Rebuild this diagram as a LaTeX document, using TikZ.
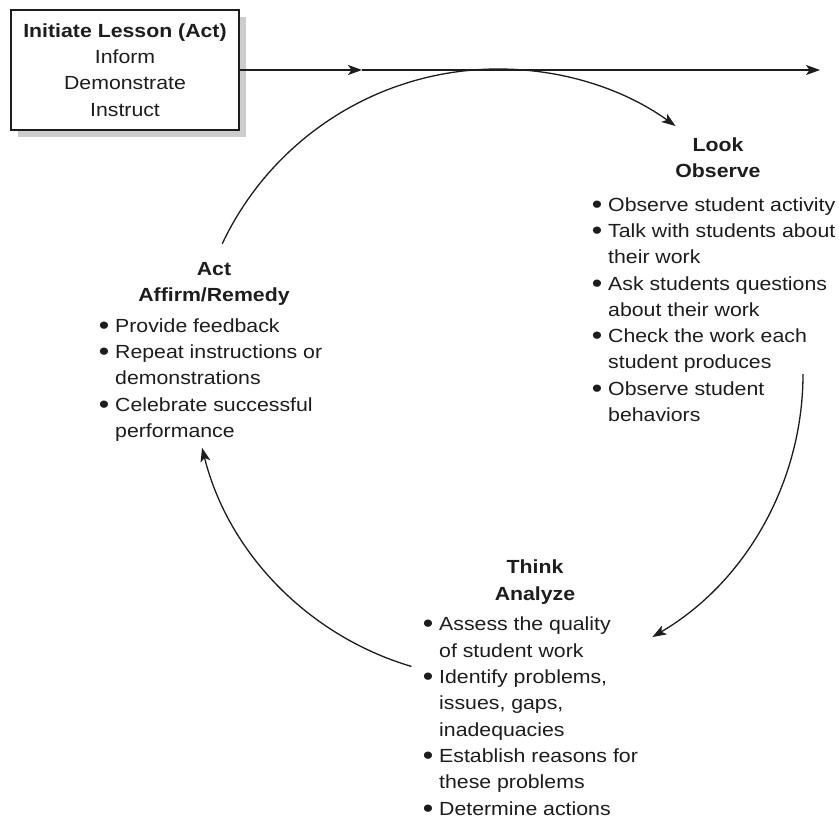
\documentclass[tikz,border=0pt]{standalone}
\usepackage{fontspec}
\setmainfont{Liberation Sans}[FakeStretch=1.12]
\usetikzlibrary{arrows.meta,calc}
\definecolor{ink}{RGB}{30,28,28}
\definecolor{shade}{RGB}{205,205,207}
\newcommand\bul{\llap{\raisebox{-2pt}{\scalebox{1.4}{\textbullet}}\hspace{5.8pt}}}
\begin{document}
\begin{tikzpicture}[x=1pt,y=-1pt,
  txt/.style={font=\fontsize{19}{26.3}\selectfont, text=ink, inner sep=0pt},
  head/.style={font=\fontsize{19}{26.3}\selectfont\bfseries, text=ink, inner sep=0pt, align=center, anchor=base},
  lst/.style={txt, align=left, anchor=base west},
  conn/.style={line width=1.3pt, draw=ink, -{Stealth[length=14pt,width=10pt,inset=3.5pt]}},
  boxshape/.style={minimum width=228pt, minimum height=120pt, inner sep=0pt}
]
\useasboundingbox[fill=white] (0,0) rectangle (839,821);
% initiating box with shadow
\node[boxshape, fill=shade] (shadow) at (132,77) {};
\node[boxshape, draw=ink, line width=1.3pt, fill=white, txt, align=center] (init) at (125,70)
  {\textbf{Initiate Lesson (Act)}\\Inform\\Demonstrate\\Instruct};
% straight arrow
\coordinate (mid) at (362,70);
\coordinate (far) at (820,70);
\draw[conn] (init.east) -- (mid);
\draw[conn] (mid) -- (far);
% cycle
\coordinate (c) at (498,374);
\coordinate (a1) at ($(c)+(-154.7:305)$);
\coordinate (a2) at ($(c)+(0:305)$);
\coordinate (a3) at ($(c)+(106.5:305)$);
\draw[conn] (a1) arc[start angle=-154.7, end angle=-54.4, radius=305];
\draw[conn] (a2) arc[start angle=0, end angle=59.6, radius=305];
\draw[conn] (a3) arc[start angle=106.5, end angle=166, radius=305];
% Look (base anchor = baseline of the last line)
\node[head] (lookh) at (718,178) {Look\\Observe};
\node[lst] (lookl) at (608,421.5) {\bul Observe student activity\\
\bul Talk with students about\\
their work\\
\bul Ask students questions\\
about their work\\
\bul Check the work each\\
student produces\\
\bul Observe student\\
behaviors};
% Act
\node[head] (acth) at (214,302) {Act\\Affirm/Remedy};
\node[lst] (actl) at (115,437.5) {\bul Provide feedback\\
\bul Repeat instructions or\\
demonstrations\\
\bul Celebrate successful\\
performance};
% Think
\node[head] (thinkh) at (535,600) {Think\\Analyze};
\node[lst] (thinkl) at (439,815) {\bul Assess the quality\\
of student work\\
\bul Identify problems,\\
issues, gaps,\\
inadequacies\\
\bul Establish reasons for\\
these problems\\
\bul Determine actions};
\end{tikzpicture}
\end{document}
